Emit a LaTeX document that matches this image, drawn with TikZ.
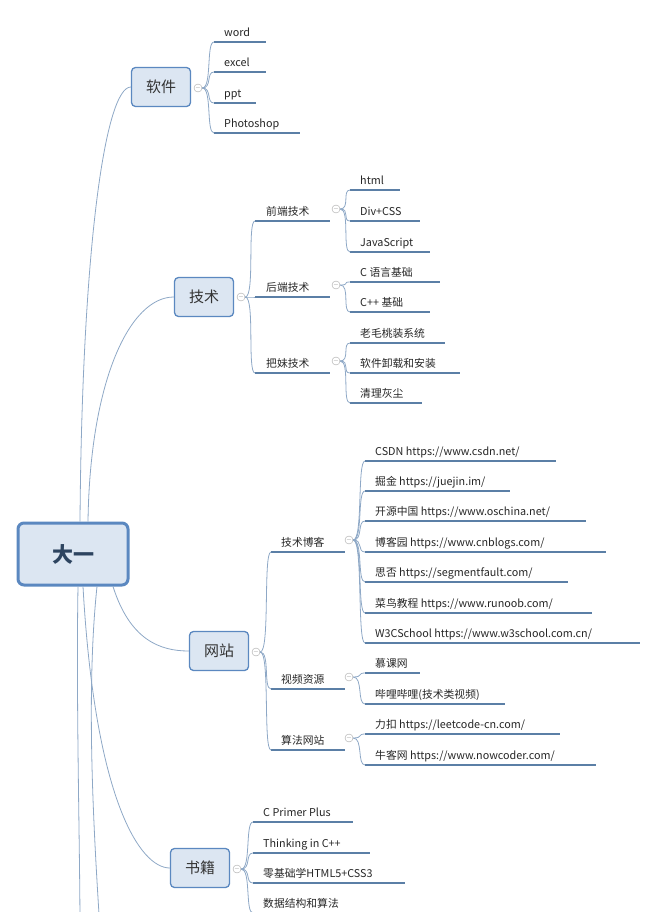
\documentclass[tikz,border=0pt]{standalone}
\usepackage{fontspec}
\setmainfont{Noto Sans CJK SC}
\definecolor{boxfill}{HTML}{DCE6F2}
\definecolor{boxline}{HTML}{5B88C0}
\definecolor{twig}{HTML}{8EA8C6}
\definecolor{uline}{HTML}{5B7FA6}
\tikzset{
  topic/.style={rectangle, rounded corners=4pt, draw=boxline, fill=boxfill, line width=1.3pt,
    minimum width=59pt, minimum height=39pt, font=\fontsize{15}{17}\selectfont, text=black!80},
  fold/.style={circle, draw=gray!70, minimum size=8pt, inner sep=0pt, font=\fontsize{6}{6}\selectfont, text=gray},
  leaf/.style={anchor=south west, inner xsep=10pt, inner ysep=3pt, text height=9pt, text depth=2pt,
    font=\fontsize{10.8}{12}\selectfont, text=black!85},
  branch/.style={draw=twig, line width=0.8pt},
  underline/.style={draw=uline, line width=1.8pt},
}
\begin{document}
\begin{tikzpicture}[x=1pt,y=-1pt]
  \useasboundingbox (0,0) rectangle (658,912);
  \clip (0,0) rectangle (658,912);

  % root
  \node[topic, line width=3pt, rounded corners=6pt, minimum width=110pt, minimum height=62pt,
    font=\fontsize{21}{23}\selectfont\bfseries, text=boxline!50!black] (root) at (73,554) {大一};

  % main topics
  \node[topic] (soft) at (161,87) {软件};
  \node[topic] (tech) at (204,297) {技术};
  \node[topic] (site) at (219,651) {网站};
  \node[topic] (book) at (200,868) {书籍};
  \node[fold] (fsoft) at (198,88) {$-$};
  \node[fold] (ftech) at (241,297) {$-$};
  \node[fold] (fsite) at (256,652) {$-$};
  \node[fold] (fbook) at (237,869) {$-$};
  \coordinate (off1) at (80,930);
  \coordinate (off2) at (100,930);

  \draw[branch] ([xshift=7pt]root.north) .. controls (82,250) and (105,87) .. (soft.west);
  \draw[branch] ([xshift=15pt]root.north) .. controls (90,380) and (130,297) .. (tech.west);
  \draw[branch] ([xshift=40pt]root.south) .. controls (130,640) and (160,651) .. (site.west);
  \draw[branch] ([xshift=10pt]root.south) .. controls (95,800) and (140,868) .. (book.west);
  \draw[branch] ([xshift=5pt]root.south) .. controls (76,700) and (80,850) .. (off1);
  \draw[branch] ([xshift=24pt]root.south) .. controls (85,700) and (95,850) .. (off2);

  % 软件
  \foreach \n/\y/\len/\txt in {a/42/52/word, b/72/52/excel, c/103/42/ppt, d/133/86/Photoshop} {
    \node[leaf] (s\n) at (214,\y) {\txt};
    \draw[underline] (s\n.south west) -- ++(\len,0);
    \draw[branch] (fsoft.east) .. controls +(10,0) and +(-8,0) .. (s\n.south west);
  }

  % 技术
  \foreach \n/\y/\txt in {a/221/前端技术, b/297/后端技术, c/373/把妹技术} {
    \node[leaf, inner xsep=11pt] (t\n) at (255,\y) {\txt};
    \draw[underline] (t\n.south west) -- ++(75,0);
    \draw[branch] (ftech.east) .. controls +(10,0) and +(-8,0) .. (t\n.south west);
    \node[fold] (ft\n) at (336,\y-12) {$-$};
  }
  \foreach \p/\n/\y/\len/\txt in {a/a/190/50/html, a/b/221/70/Div+CSS, a/c/252/80/JavaScript,
      b/d/282/90/C 语言基础, b/e/312/80/C++ 基础,
      c/f/343/95/老毛桃装系统, c/g/373/110/软件卸载和安装, c/h/403/72/清理灰尘} {
    \node[leaf] (tl\n) at (350,\y) {\txt};
    \draw[underline] (tl\n.south west) -- ++(\len,0);
    \draw[branch] (ft\p.east) .. controls +(10,0) and +(-8,0) .. (tl\n.south west);
  }

  % 网站
  \foreach \n/\y/\txt in {a/552/技术博客, b/689/视频资源, c/750/算法网站} {
    \node[leaf] (w\n) at (271,\y) {\txt};
    \draw[underline] (w\n.south west) -- ++(74,0);
    \draw[branch] (fsite.east) .. controls +(10,0) and +(-8,0) .. (w\n.south west);
    \node[fold] (fw\n) at (349,\y-12) {$-$};
  }
  \foreach \p/\n/\y/\len/\txt in {a/a/461/191/{CSDN https://www.csdn.net/}, a/b/491/145/{掘金 https://juejin.im/},
      a/c/521/221/{开源中国 https://www.oschina.net/}, a/d/552/241/{博客园 https://www.cnblogs.com/},
      a/e/582/203/{思否 https://segmentfault.com/}, a/f/613/227/{菜鸟教程 https://www.runoob.com/},
      a/g/643/275/{W3CSchool https://www.w3school.com.cn/},
      b/h/673/55/慕课网, b/i/704/140/哔哩哔哩(技术类视频),
      c/j/734/195/{力扣 https://leetcode-cn.com/}, c/k/765/231/{牛客网 https://www.nowcoder.com/}} {
    \node[leaf] (wl\n) at (365,\y) {\txt};
    \draw[underline] (wl\n.south west) -- ++(\len,0);
    \draw[branch] (fw\p.east) .. controls +(10,0) and +(-8,0) .. (wl\n.south west);
  }

  % 书籍
  \foreach \n/\y/\len/\txt in {a/822/100/C Primer Plus, b/853/117/Thinking in C++,
      c/883/152/零基础学HTML5+CSS3, d/913/110/数据结构和算法} {
    \node[leaf] (b\n) at (253,\y) {\txt};
    \draw[underline] (b\n.south west) -- ++(\len,0);
    \draw[branch] (fbook.east) .. controls +(10,0) and +(-8,0) .. (b\n.south west);
  }
\end{tikzpicture}
\end{document}
